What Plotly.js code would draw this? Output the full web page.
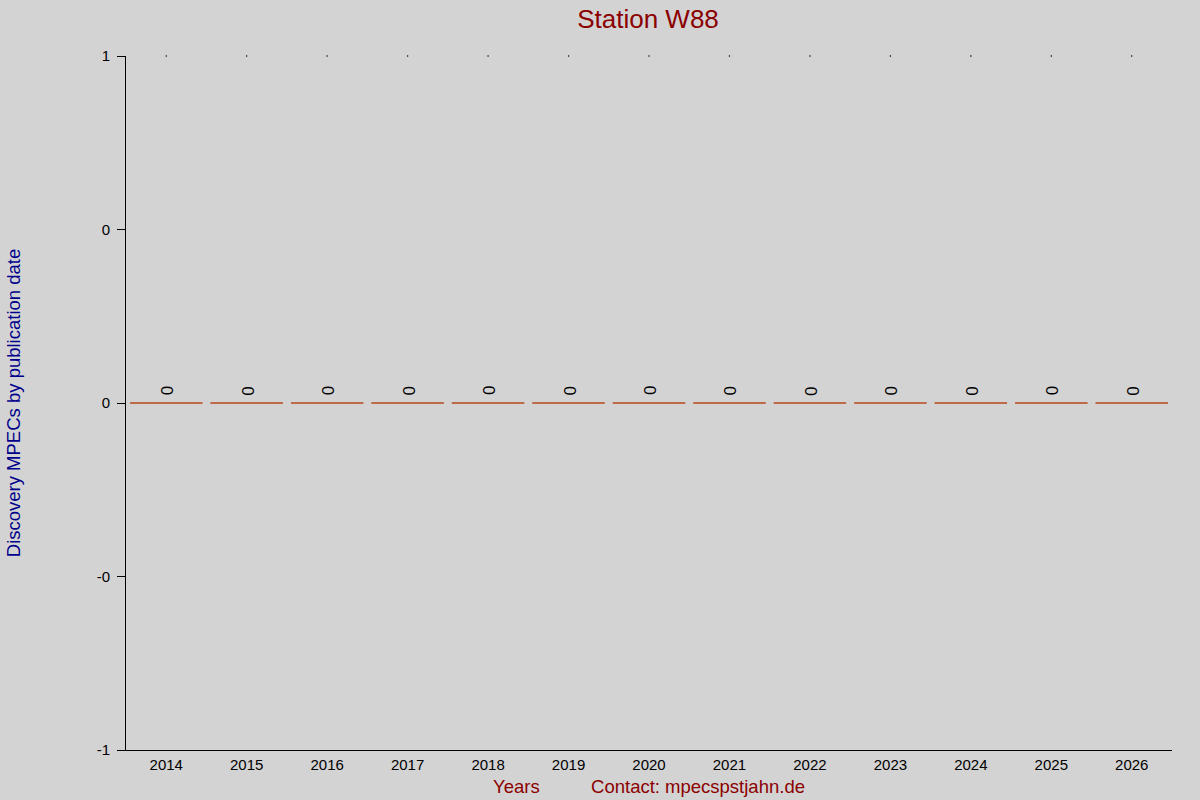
<!DOCTYPE html>
<html lang="en">
    <head>
        <meta charset="UTF-8" />
        <script src="https://cdn.plot.ly/plotly-3.0.1.min.js"></script>
        <title>Station W88</title>
        <style>
            body { margin: 0; background: #d3d3d3; }
        </style>
    </head>
    <body>
        <div id="graph" style="width:1200px;height:800px;"></div>
    </body>
    <script>
        // Values
        const years = ["2014", "2015", "2016", "2017", "2018", "2019", "2020",
                       "2021", "2022", "2023", "2024", "2025", "2026"];
        const discoveries = [0, 0, 0, 0, 0, 0, 0, 0, 0, 0, 0, 0, 0];
        const topMarks = [1, 1, 1, 1, 1, 1, 1, 1, 1, 1, 1, 1, 1];
        const yTickVals = [-1, -0.5, 0, 0.5, 1];
        const yTickText = ["-1", "-0", "0", "0", "1"];

        const bars = {
            x: years,
            y: discoveries,
            type: "bar",
            marker: { color: "#b8461a", line: { color: "#b8461a", width: 1 } },
            hoverinfo: "x+y",
        };
        const dots = {
            x: years,
            y: topMarks,
            type: "scatter",
            mode: "markers",
            marker: { color: "#000", size: 1.5 },
            cliponaxis: false,
            hoverinfo: "skip",
        };

        // count labels above each bar (x given as category index)
        const labels = years.map((yr, i) => ({
            x: i,
            y: discoveries[i],
            xref: "x",
            yref: "y",
            text: String(discoveries[i]),
            textangle: -90,
            showarrow: false,
            yshift: 12,
            xshift: 1,
            font: { size: 17, color: "#000" },
        }));

        const layout = {
            width: 1200,
            height: 800,
            paper_bgcolor: "#d3d3d3",
            plot_bgcolor: "#d3d3d3",
            font: { family: "Liberation Sans, Arial, sans-serif", size: 15, color: "#000" },
            margin: { l: 126, r: 28, t: 56, b: 50 },
            showlegend: false,
            bargap: 0.1,
            title: {
                text: "Station W88",
                font: { size: 26, color: "#8b0000" },
                x: 0.54,
                xanchor: "center",
                y: 0.977,
                yanchor: "middle",
            },
            xaxis: {
                type: "category",
                range: [-0.5, 12.5],
                showline: true,
                linecolor: "#000",
                linewidth: 1,
                ticks: "",
                ticklabelstandoff: 1,
                showgrid: false,
                zeroline: false,
                tickfont: { size: 15 },
                title: {
                    text: "Years" + "\u00a0".repeat(10) + "Contact: mpecspstjahn.de",
                    font: { size: 18.5, color: "#8b0000" },
                    standoff: 8,
                },
                automargin: false,
            },
            yaxis: {
                range: [-1, 1],
                tickvals: yTickVals,
                ticktext: yTickText,
                showline: true,
                linecolor: "#000",
                linewidth: 1,
                ticks: "outside",
                ticklen: 8,
                tickcolor: "#000",
                ticklabelstandoff: 4,
                showgrid: false,
                zeroline: false,
                tickfont: { size: 15 },
                title: {
                    text: "Discovery MPECs by publication date",
                    font: { size: 18.5, color: "#00008b" },
                    standoff: 71,
                },
                automargin: false,
            },
            annotations: labels,
        };

        Plotly.newPlot("graph", [bars, dots], layout, { displayModeBar: false });
    </script>
</html>
